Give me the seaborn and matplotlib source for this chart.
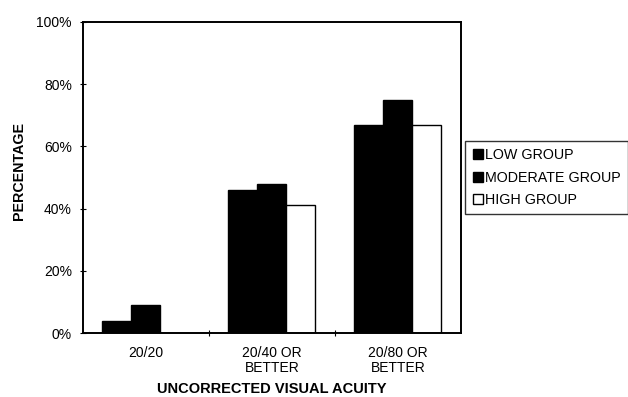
import matplotlib
matplotlib.use("Agg")
import matplotlib.pyplot as plt
import matplotlib.ticker as mticker
import seaborn as sns
import pandas as pd

# Share of eyes reaching each uncorrected acuity level, by group
categories = ["20/20", "20/40 OR\nBETTER", "20/80 OR\nBETTER"]
groups = ["LOW GROUP", "MODERATE GROUP", "HIGH GROUP"]
low_vals = [4, 46, 67]
moderate_vals = [9, 48, 75]
high_vals = [0, 41, 67]

df = pd.DataFrame({
    "acuity": categories * 3,
    "group": [groups[0]] * 3 + [groups[1]] * 3 + [groups[2]] * 3,
    "pct": low_vals + moderate_vals + high_vals,
})

sns.set_theme(style="white")
plt.rcParams["font.family"] = ["Liberation Sans", "DejaVu Sans"]
plt.rcParams["text.color"] = "black"
plt.rcParams["axes.labelcolor"] = "black"
plt.rcParams["xtick.color"] = "black"
plt.rcParams["ytick.color"] = "black"

fig = plt.figure(figsize=(6.28, 3.97), dpi=100)
ax = fig.add_axes([0.132, 0.161, 0.602, 0.784])

palette = {groups[0]: "black", groups[1]: "black", groups[2]: "white"}
sns.barplot(data=df, x="acuity", y="pct", hue="group", order=categories,
            hue_order=groups, palette=palette, edgecolor="black",
            linewidth=1.0, width=0.69, gap=0, saturation=1, ax=ax,
            legend=True)

ax.set_ylim(0, 100)
ax.set_xlim(-0.5, 2.5)
ax.yaxis.set_major_locator(mticker.MultipleLocator(20))
ax.yaxis.set_major_formatter(mticker.FuncFormatter(lambda v, p: f"{int(v)}%"))
ax.tick_params(axis="y", direction="inout", length=4, width=0.8,
               labelsize=10, pad=6, colors="black", left=True)
ax.set_xticks(range(len(categories)))
ax.set_xticklabels(categories, linespacing=1.1)
ax.tick_params(axis="x", which="major", length=0, labelsize=10, pad=9,
               colors="black")
ax.set_xticks([0.5, 1.5], minor=True)
ax.tick_params(axis="x", which="minor", direction="inout", length=5,
               width=0.8, bottom=True)

for s in ax.spines.values():
    s.set_visible(True)
    s.set_color("black")
    s.set_linewidth(1.4)

ax.set_ylabel("PERCENTAGE", fontsize=10.3, fontweight="bold", color="black")
ax.set_xlabel("UNCORRECTED VISUAL ACUITY", fontsize=10.5, fontweight="bold",
              color="black")
ax.yaxis.set_label_coords(-0.150, 0.52)
ax.xaxis.set_label_coords(0.5, -0.158)

handles, labels = ax.get_legend_handles_labels()
ax.legend(handles, labels, loc="upper left", bbox_to_anchor=(0.741, 0.645),
          bbox_transform=fig.transFigure, frameon=True, fancybox=False,
          edgecolor="black", fontsize=10.3, handlelength=0.7, handleheight=0.7,
          handletextpad=0.15, labelspacing=0.6, borderpad=0.5,
          borderaxespad=0)
ax.get_legend().get_frame().set_linewidth(1.0)

fig.savefig("out.png", dpi=100, facecolor="white")
